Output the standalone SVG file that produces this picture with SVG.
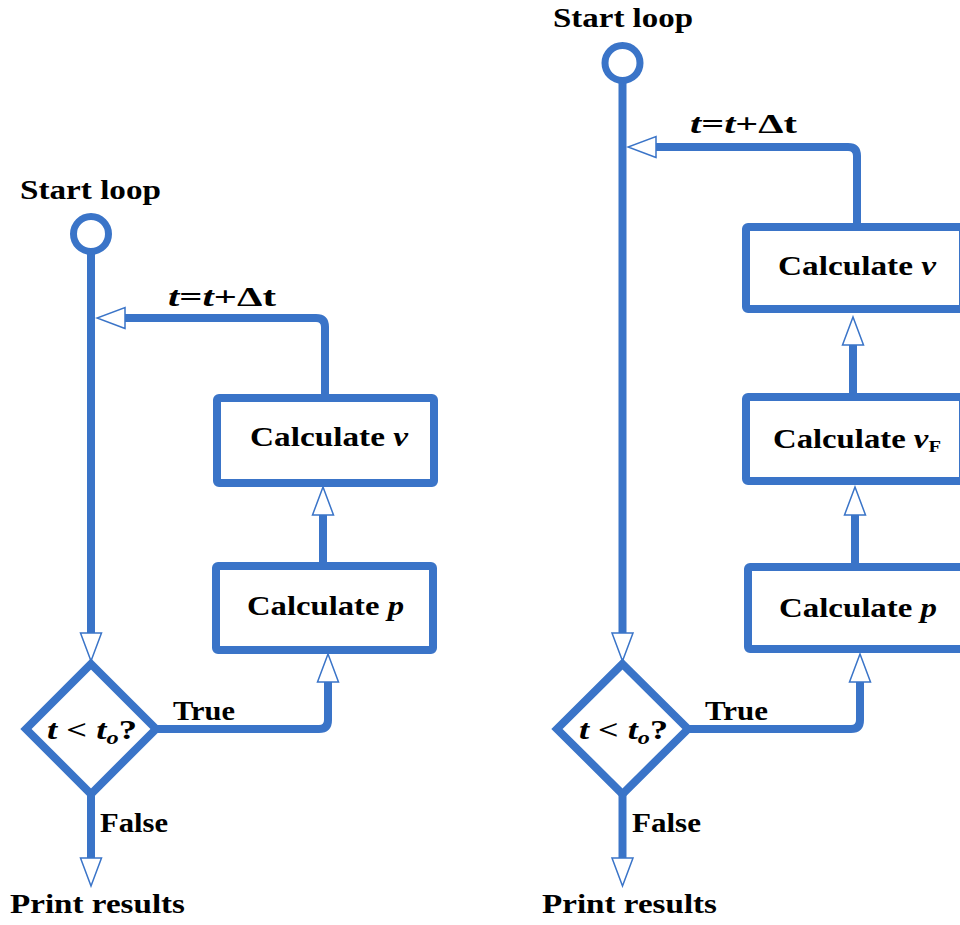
<svg xmlns="http://www.w3.org/2000/svg" width="960" height="925" viewBox="0 0 960 925">
<defs>
<style>
.ln{fill:none;stroke:#3a74c8;stroke-width:8;stroke-linejoin:round}
.bx{fill:#fff;stroke:#3a74c8;stroke-width:8}
.cir{fill:#fff;stroke:#3a74c8;stroke-width:7}
.t{font-family:'Liberation Serif','DejaVu Serif',serif;font-weight:bold;font-size:27px;fill:#000}
.i{font-style:italic}
</style>
<marker id="ah" markerUnits="userSpaceOnUse" markerWidth="32" markerHeight="26" viewBox="-2 -13 32 26" refX="0" refY="0" orient="auto">
<path d="M0,-10.5 L28,0 L0,10.5 Z" fill="#fff" stroke="#3a74c8" stroke-width="1.5" stroke-linejoin="miter"/>
</marker>
</defs>

<g id="connectors">
<path class="ln" d="M91,252 V633" marker-end="url(#ah)"/>
<path class="ln" d="M325,397 V327 Q325,318 316,318 H125" marker-end="url(#ah)"/>
<path class="ln" d="M323,563 V515" marker-end="url(#ah)"/>
<path class="ln" d="M157,729 H319 Q328,729 328,720 V682" marker-end="url(#ah)"/>
<path class="ln" d="M91,794 V858" marker-end="url(#ah)"/>

<path class="ln" d="M622.5,81 V633" marker-end="url(#ah)"/>
<path class="ln" d="M857,223 V156 Q857,147 848,147 H656" marker-end="url(#ah)"/>
<path class="ln" d="M853,393 V345" marker-end="url(#ah)"/>
<path class="ln" d="M855,563 V515" marker-end="url(#ah)"/>
<path class="ln" d="M688,729 H851 Q860,729 860,720 V682" marker-end="url(#ah)"/>
<path class="ln" d="M622.5,794 V858" marker-end="url(#ah)"/>
</g>

<g id="left-start">
<circle class="cir" cx="91" cy="234" r="17.5"/>
<text class="t" x="20" y="199" textLength="141" lengthAdjust="spacingAndGlyphs">Start loop</text>
</g>
<g id="left-inc">
<text class="t" x="168" y="306" textLength="108" lengthAdjust="spacingAndGlyphs"><tspan class="i">t</tspan>=<tspan class="i">t</tspan>+Δt</text>
</g>
<g id="left-calc-v">
<rect class="bx" x="217" y="398" width="217" height="85" rx="2"/>
<text class="t" x="250" y="446" textLength="158" lengthAdjust="spacingAndGlyphs">Calculate <tspan class="i">v</tspan></text>
</g>
<g id="left-calc-p">
<rect class="bx" x="216" y="566" width="217" height="84" rx="2"/>
<text class="t" x="247" y="615" textLength="157" lengthAdjust="spacingAndGlyphs">Calculate <tspan class="i">p</tspan></text>
</g>
<g id="left-decision">
<path class="bx" d="M91,664 L156,729 L91,794 L26,729 Z"/>
<text class="t" x="47" y="739" textLength="90" lengthAdjust="spacingAndGlyphs"><tspan class="i">t</tspan> &lt; <tspan class="i">t</tspan><tspan class="i" dy="5" font-size="18">o</tspan><tspan dy="-5">?</tspan></text>
</g>
<g id="left-true">
<text class="t" x="173" y="720" textLength="62" lengthAdjust="spacingAndGlyphs">True</text>
</g>
<g id="left-false">
<text class="t" x="100" y="832" textLength="68" lengthAdjust="spacingAndGlyphs">False</text>
</g>
<g id="left-print">
<text class="t" x="10" y="913" textLength="175" lengthAdjust="spacingAndGlyphs">Print results</text>
</g>

<g id="right-start">
<circle class="cir" cx="622.5" cy="63" r="17.5"/>
<text class="t" x="553" y="27" textLength="140" lengthAdjust="spacingAndGlyphs">Start loop</text>
</g>
<g id="right-inc">
<text class="t" x="690" y="133" textLength="107" lengthAdjust="spacingAndGlyphs"><tspan class="i">t</tspan>=<tspan class="i">t</tspan>+Δt</text>
</g>
<g id="right-calc-v">
<rect class="bx" x="746" y="227" width="217" height="82" rx="2"/>
<text class="t" x="778" y="275" textLength="158" lengthAdjust="spacingAndGlyphs">Calculate <tspan class="i">v</tspan></text>
</g>
<g id="right-calc-vf">
<rect class="bx" x="746" y="397" width="217" height="84" rx="2"/>
<text class="t" x="773" y="448" textLength="168" lengthAdjust="spacingAndGlyphs">Calculate <tspan class="i">v</tspan><tspan dy="4" font-size="17">F</tspan></text>
</g>
<g id="right-calc-p">
<rect class="bx" x="748" y="567" width="217" height="82" rx="2"/>
<text class="t" x="779" y="617" textLength="158" lengthAdjust="spacingAndGlyphs">Calculate <tspan class="i">p</tspan></text>
</g>
<g id="right-decision">
<path class="bx" d="M622.5,664 L688,729 L622.5,794 L557,729 Z"/>
<text class="t" x="579" y="739" textLength="89" lengthAdjust="spacingAndGlyphs"><tspan class="i">t</tspan> &lt; <tspan class="i">t</tspan><tspan class="i" dy="5" font-size="18">o</tspan><tspan dy="-5">?</tspan></text>
</g>
<g id="right-true">
<text class="t" x="705" y="720" textLength="63" lengthAdjust="spacingAndGlyphs">True</text>
</g>
<g id="right-false">
<text class="t" x="632" y="832" textLength="69" lengthAdjust="spacingAndGlyphs">False</text>
</g>
<g id="right-print">
<text class="t" x="542" y="913" textLength="175" lengthAdjust="spacingAndGlyphs">Print results</text>
</g>
</svg>
